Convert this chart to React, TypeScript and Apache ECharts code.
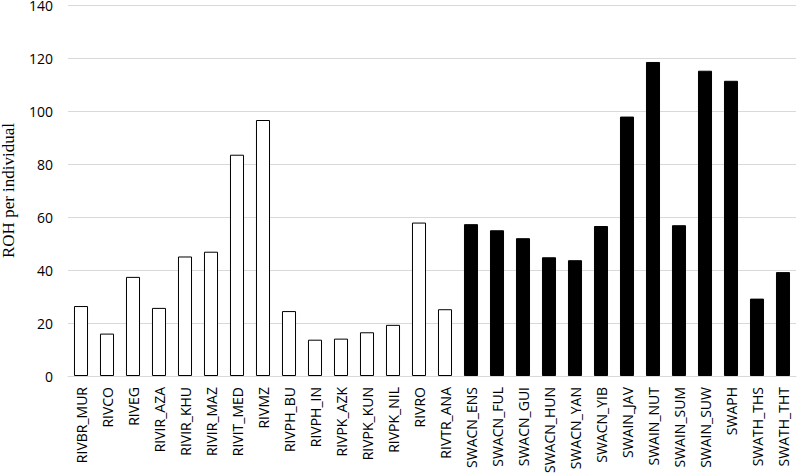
import React, { useEffect, useRef } from "react";
import * as echarts from "echarts";

const categories = [
  "RIVBR_MUR", "RIVCO", "RIVEG", "RIVIR_AZA", "RIVIR_KHU", "RIVIR_MAZ", "RIVIT_MED", "RIVMZ",
  "RIVPH_BU", "RIVPH_IN", "RIVPK_AZK", "RIVPK_KUN", "RIVPK_NIL", "RIVRO", "RIVTR_ANA",
  "SWACN_ENS", "SWACN_FUL", "SWACN_GUI", "SWACN_HUN", "SWACN_YAN", "SWACN_YIB", "SWAIN_JAV",
  "SWAIN_NUT", "SWAIN_SUM", "SWAIN_SUW", "SWAPH", "SWATH_THS", "SWATH_THT",
];

const rohValues = [
  26.4, 16.0, 37.4, 25.7, 45.1, 46.9, 83.5, 96.6,
  24.5, 13.7, 14.1, 16.5, 19.3, 57.9, 25.2,
  57.3, 55.0, 52.0, 44.8, 43.7, 56.6, 97.9,
  118.5, 56.9, 115.2, 111.4, 29.2, 39.2,
];

const yTicks = { min: 0, max: 140, interval: 20 };
const yAxisTitle = "ROH per individual";

export default function App() {
  const ref = useRef<HTMLDivElement>(null);
  useEffect(() => {
    document.body.style.margin = "0";
    const chart = echarts.init(ref.current!, null, { renderer: "svg" });
    chart.setOption({
      animation: false,
      backgroundColor: "#ffffff",
      grid: {
        left: 68,
        right: 1,
        top: 5,
        bottom: 97,
        containLabel: false,
        outerBoundsMode: "none",
      },
      xAxis: {
        type: "category",
        data: categories,
        axisTick: { show: false },
        axisLine: { lineStyle: { color: "#d9d9d9", width: 1 } },
        axisLabel: {
          interval: 0,
          rotate: 90,
          margin: 11,
          color: "#000000",
          fontFamily: "Open Sans",
          fontSize: 14,
        },
      },
      yAxis: {
        type: "value",
        min: yTicks.min,
        max: yTicks.max,
        interval: yTicks.interval,
        name: yAxisTitle,
        nameLocation: "middle",
        nameGap: 51,
        nameTextStyle: { fontFamily: "Liberation Serif", fontSize: 17, color: "#000000" },
        axisLine: { show: false },
        axisTick: { show: false },
        splitLine: { lineStyle: { color: "#d9d9d9", width: 1 } },
        axisLabel: {
          margin: 15,
          color: "#000000",
          fontFamily: "Open Sans",
          fontSize: 14,
        },
      },
      series: [
        {
          type: "bar",
          barCategoryGap: "46%",
          data: rohValues.map((v, i) => ({
            value: v,
            itemStyle: {
              color: categories[i].startsWith("SWA") ? "#000000" : "#ffffff",
              borderColor: "#000000",
              borderWidth: 1,
            },
          })),
        },
      ],
    });
    return () => chart.dispose();
  }, []);
  return (
    <div
      ref={ref}
      style={{ position: "absolute", left: 0, top: 0, width: 797, height: 473 }}
    />
  );
}
